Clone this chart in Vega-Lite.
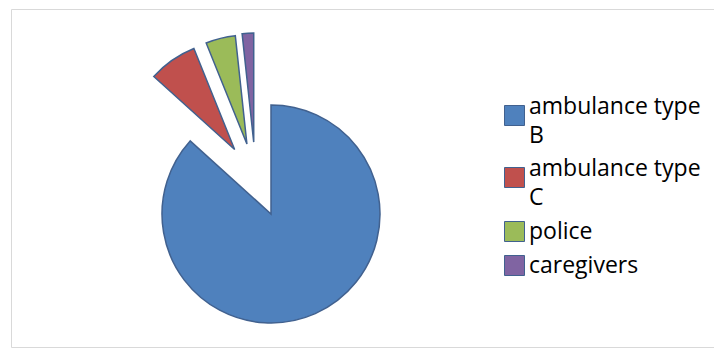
{
  "$schema": "https://vega.github.io/schema/vega-lite/v6.json",
  "width": 703,
  "height": 338,
  "autosize": "none",
  "padding": {"left": 11, "top": 9, "right": 0, "bottom": 2},
  "background": "white",
  "config": {
    "view": {"stroke": "#d9d9d9", "strokeWidth": 1}
  },
  "data": {
    "values": [
      {"category": "ambulance type B", "order": 1, "value": 86.7},
      {"category": "ambulance type C", "order": 2, "value": 7.2},
      {"category": "police", "order": 3, "value": 4.4},
      {"category": "caregivers", "order": 4, "value": 1.7}
    ]
  },
  "transform": [
    {"window": [{"op": "sum", "field": "value", "as": "end"}], "sort": [{"field": "order"}], "frame": [null, 0]},
    {"calculate": "datum.end - datum.value", "as": "start"},
    {"calculate": "datum.order == 1 ? datum.end : null", "as": "mainEnd"},
    {"joinaggregate": [{"op": "max", "field": "mainEnd", "as": "groupStart"}, {"op": "sum", "field": "value", "as": "total"}]},
    {"calculate": "(datum.start + datum.end) / datum.total * PI", "as": "mid"},
    {"calculate": "(datum.groupStart + datum.total) / datum.total * PI", "as": "groupMid"},
    {"calculate": "(datum.mid + datum.groupMid) / 2", "as": "dir"},
    {"calculate": "datum.order == 1 ? 0 : sin(datum.dir)", "as": "ex"},
    {"calculate": "datum.order == 1 ? 0 : cos(datum.dir)", "as": "ey"}
  ],
  "mark": {"type": "arc", "radius": 109, "stroke": "#41618f", "strokeWidth": 1.5},
  "encoding": {
    "theta": {"field": "start", "type": "quantitative", "scale": {"domain": [0, 100], "range": [0, 6.283185307179586]}},
    "theta2": {"field": "end"},
    "x": {"field": "ex", "type": "quantitative", "scale": {"domain": [-3.5135, 5.9865], "nice": false, "zero": false}, "axis": null},
    "y": {"field": "ey", "type": "quantitative", "scale": {"domain": [-1.7973, 2.7703], "nice": false, "zero": false}, "axis": null},
    "color": {
      "field": "category",
      "type": "nominal",
      "title": null,
      "scale": {
        "domain": ["ambulance type B", "ambulance type C", "police", "caregivers"],
        "range": ["#4F81BD", "#C0504D", "#9BBB59", "#8064A2"]
      },
      "legend": {
        "orient": "none",
        "legendX": 492,
        "legendY": 95,
        "padding": 0,
        "symbolType": "square",
        "symbolSize": 400,
        "symbolStrokeColor": "#41618f",
        "symbolStrokeWidth": 1,
        "labelFont": "Open Sans",
        "labelFontSize": 23,
        "labelColor": "#000000",
        "labelOffset": 3,
        "labelLimit": 300,
        "rowPadding": 9,
        "labelExpr": "indexof(datum.label, 'ambulance type ') == 0 ? ['ambulance type', substring(datum.label, 15)] : datum.label",
        "encode": {
          "labels": {
            "update": {
              "lineHeight": {"value": 29},
              "dy": {"signal": "indexof(datum.label, 'ambulance type ') == 0 ? -9 : 0"}
            }
          }
        }
      }
    },
    "order": {"field": "order"}
  }
}
